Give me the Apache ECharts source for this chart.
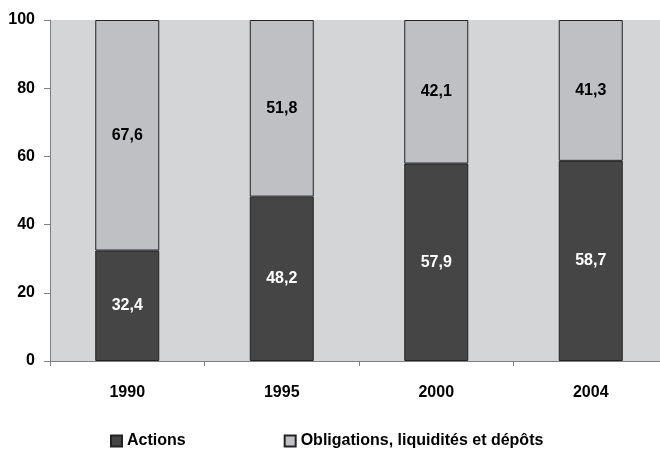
<!DOCTYPE html>
<html>
<head>
<meta charset="utf-8">
<script src="https://cdn.jsdelivr.net/npm/echarts@6/dist/echarts.min.js"></script>
<style>
  html, body { margin: 0; padding: 0; background: #ffffff; }
  #chart { width: 660px; height: 450px; }
</style>
</head>
<body>
<div id="chart"></div>
<script>
// Share of household financial assets, by year (%)
const years = ['1990', '1995', '2000', '2004'];
const actions = [32.4, 48.2, 57.9, 58.7];
const obligations = [67.6, 51.8, 42.1, 41.3];
const seriesNames = ['Actions', 'Obligations, liquidités et dépôts'];
const yTicks = [0, 20, 40, 60, 80, 100];

const FONT = '"Liberation Sans", Arial, sans-serif';
const FS = 16;
const fmt = v => String(v).replace('.', ',');

const chart = echarts.init(document.getElementById('chart'), null, { renderer: 'canvas' });

chart.setOption({
  backgroundColor: '#ffffff',
  animation: false,
  grid: {
    show: true,
    left: 50,
    top: 20,
    width: 618,
    height: 341,
    outerBoundsMode: 'none',
    backgroundColor: '#d4d5d7',
    borderWidth: 0,
    containLabel: false
  },
  legend: {
    data: seriesNames,
    left: 105,
    top: 428,
    itemWidth: 11,
    itemHeight: 11,
    itemGap: 98,
    icon: 'rect',
    textStyle: { fontFamily: FONT, fontWeight: 'bold', fontSize: FS, color: '#000' }
  },
  xAxis: {
    type: 'category',
    data: years,
    axisLine: { lineStyle: { color: '#808080', width: 1 } },
    axisTick: { show: true, length: 5, lineStyle: { color: '#808080' } },
    axisLabel: { margin: 24, fontFamily: FONT, fontWeight: 'bold', fontSize: FS, color: '#000' }
  },
  yAxis: {
    type: 'value',
    min: yTicks[0],
    max: yTicks[yTicks.length - 1],
    interval: yTicks[1] - yTicks[0],
    splitLine: { show: false },
    axisLine: { show: true, lineStyle: { color: '#808080', width: 1 } },
    axisTick: { show: true, length: 6, lineStyle: { color: '#808080' } },
    axisLabel: { margin: 15, fontFamily: FONT, fontWeight: 'bold', fontSize: FS, color: '#000' }
  },
  series: [
    {
      name: seriesNames[0],
      type: 'bar',
      stack: 'total',
      barWidth: 64,
      data: actions,
      itemStyle: { color: '#454545', borderColor: '#222222', borderWidth: 1 },
      label: {
        show: true,
        position: 'inside',
        formatter: p => fmt(p.value),
        fontFamily: FONT, fontWeight: 'bold', fontSize: FS, color: '#ffffff'
      }
    },
    {
      name: seriesNames[1],
      type: 'bar',
      stack: 'total',
      barWidth: 64,
      data: obligations,
      itemStyle: { color: '#bfc0c4', borderColor: '#222222', borderWidth: 1 },
      label: {
        show: true,
        position: 'inside',
        formatter: p => fmt(p.value),
        fontFamily: FONT, fontWeight: 'bold', fontSize: FS, color: '#000000'
      }
    }
  ]
});
</script>
</body>
</html>
